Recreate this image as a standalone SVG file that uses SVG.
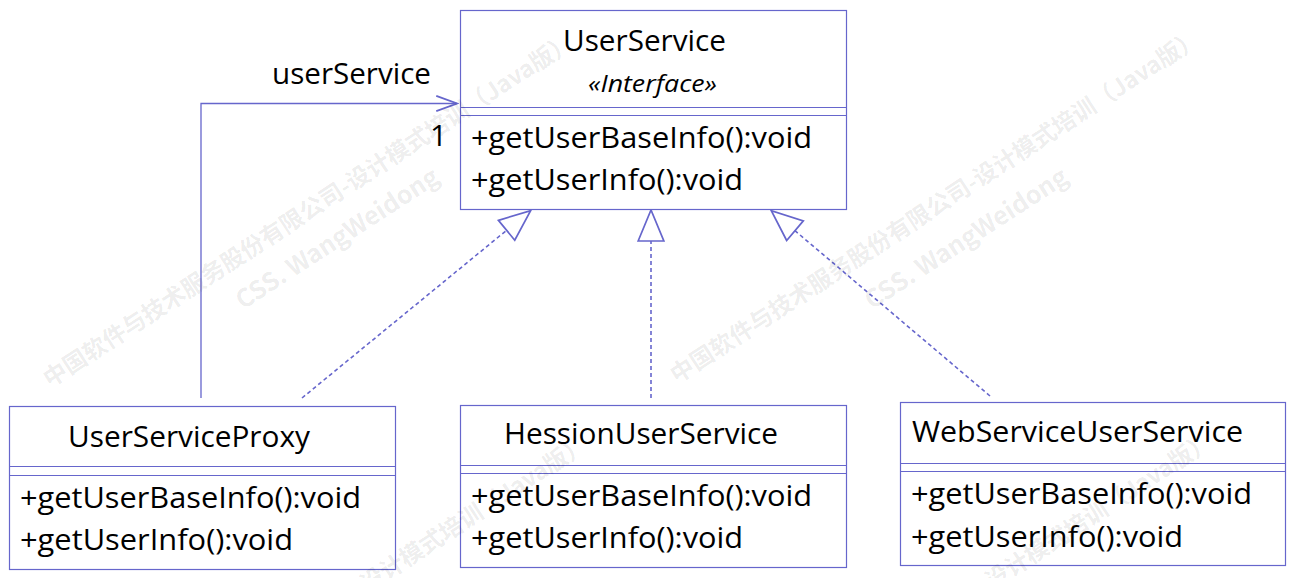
<svg xmlns="http://www.w3.org/2000/svg" width="1296" height="578" viewBox="0 0 1296 578">
<style>
.box{fill:#ffffff;stroke:#6666cc;stroke-width:1.2}
.sep{stroke:#6666cc;stroke-width:1.2}
.t{font-family:"Open Sans","Noto Sans","Liberation Sans",sans-serif;font-size:30px;fill:#000}
.it{font-family:"Open Sans","Noto Sans","Liberation Sans",sans-serif;font-size:24px;font-style:italic;fill:#000}
.dash{fill:none;stroke:#6666cc;stroke-width:1.6;stroke-dasharray:4 3}
.assoc{fill:none;stroke:#6666cc;stroke-width:1.3}
.wm{font-family:"Noto Sans CJK SC","Noto Sans",sans-serif;font-size:23.5px;font-weight:bold;fill:#000;fill-opacity:0.085}
.wm2{font-family:"Noto Sans CJK SC","Noto Sans",sans-serif;font-size:25px;font-weight:bold;fill:#000;fill-opacity:0.085}
</style>
<defs>
<marker id="realize" markerUnits="userSpaceOnUse" markerWidth="40" markerHeight="30" viewBox="-2 -14 34 28" refX="0" refY="0" orient="auto">
<path d="M0,-12 L29,0 L0,12 Z" fill="#ffffff" stroke="#6666cc" stroke-width="1.6"/>
</marker>
<marker id="open" markerUnits="userSpaceOnUse" markerWidth="24" markerHeight="20" viewBox="-20 -9 22 18" refX="0" refY="0" orient="auto">
<path d="M-19,-7 L0,0 L-19,7" fill="none" stroke="#6666cc" stroke-width="1.6"/>
</marker>
</defs>
<rect width="1296" height="578" fill="#ffffff"/>
<g id="connectors">
<path class="assoc" d="M201,398 L201,103.5 L457,103.5" marker-end="url(#open)"/>
<path class="dash" d="M302,398 L506.6,230.3" marker-end="url(#realize)"/>
<path class="dash" d="M651,398 L651,241" marker-end="url(#realize)"/>
<path class="dash" d="M990,396 L795,230.7" marker-end="url(#realize)"/>
<text class="t" x="272" y="84" textLength="159" lengthAdjust="spacingAndGlyphs">userService</text>
<text class="t" x="430" y="146">1</text>
</g>
<g id="UserService">
<rect class="box" x="460.5" y="10.5" width="386" height="199"/>
<line class="sep" x1="460.5" y1="107.5" x2="846.5" y2="107.5"/>
<line class="sep" x1="460.5" y1="115.5" x2="846.5" y2="115.5"/>
<text class="t" x="563" y="51" textLength="163" lengthAdjust="spacingAndGlyphs">UserService</text>
<text class="it" x="588" y="92" textLength="129" lengthAdjust="spacingAndGlyphs">«Interface»</text>
<text class="t" x="471" y="148" textLength="341" lengthAdjust="spacingAndGlyphs">+getUserBaseInfo():void</text>
<text class="t" x="471" y="190" textLength="272" lengthAdjust="spacingAndGlyphs">+getUserInfo():void</text>
</g>
<g id="UserServiceProxy">
<rect class="box" x="9.5" y="406.5" width="386" height="163"/>
<line class="sep" x1="9.5" y1="466.5" x2="395.5" y2="466.5"/>
<line class="sep" x1="9.5" y1="475.5" x2="395.5" y2="475.5"/>
<text class="t" x="68" y="447" textLength="242" lengthAdjust="spacingAndGlyphs">UserServiceProxy</text>
<text class="t" x="20" y="508" textLength="341" lengthAdjust="spacingAndGlyphs">+getUserBaseInfo():void</text>
<text class="t" x="20" y="550" textLength="273" lengthAdjust="spacingAndGlyphs">+getUserInfo():void</text>
</g>
<g id="HessionUserService">
<rect class="box" x="460.5" y="405.5" width="386" height="162"/>
<line class="sep" x1="460.5" y1="465.5" x2="846.5" y2="465.5"/>
<line class="sep" x1="460.5" y1="473.5" x2="846.5" y2="473.5"/>
<text class="t" x="504" y="444" textLength="274" lengthAdjust="spacingAndGlyphs">HessionUserService</text>
<text class="t" x="471" y="506" textLength="341" lengthAdjust="spacingAndGlyphs">+getUserBaseInfo():void</text>
<text class="t" x="471" y="548" textLength="272" lengthAdjust="spacingAndGlyphs">+getUserInfo():void</text>
</g>
<g id="WebServiceUserService">
<rect class="box" x="900.5" y="402.5" width="385" height="163"/>
<line class="sep" x1="900.5" y1="463.5" x2="1285.5" y2="463.5"/>
<line class="sep" x1="900.5" y1="471.5" x2="1285.5" y2="471.5"/>
<text class="t" x="912" y="442" textLength="331" lengthAdjust="spacingAndGlyphs">WebServiceUserService</text>
<text class="t" x="911" y="504" textLength="341" lengthAdjust="spacingAndGlyphs">+getUserBaseInfo():void</text>
<text class="t" x="911" y="547" textLength="272" lengthAdjust="spacingAndGlyphs">+getUserInfo():void</text>
</g>
<g id="watermark">
<text class="wm" transform="translate(50,388) rotate(-33)">中国软件与技术服务股份有限公司-设计模式培训（Java版）</text>
<text class="wm2" transform="translate(243,310) rotate(-33)">CSS. WangWeidong</text>
<text class="wm" transform="translate(677,384) rotate(-33)">中国软件与技术服务股份有限公司-设计模式培训（Java版）</text>
<text class="wm2" transform="translate(872,310) rotate(-33)">CSS. WangWeidong</text>
<text class="wm" transform="translate(64,790) rotate(-33)">中国软件与技术服务股份有限公司-设计模式培训（Java版）</text>
<text class="wm" transform="translate(689,787) rotate(-33)">中国软件与技术服务股份有限公司-设计模式培训（Java版）</text>
</g>
</svg>
